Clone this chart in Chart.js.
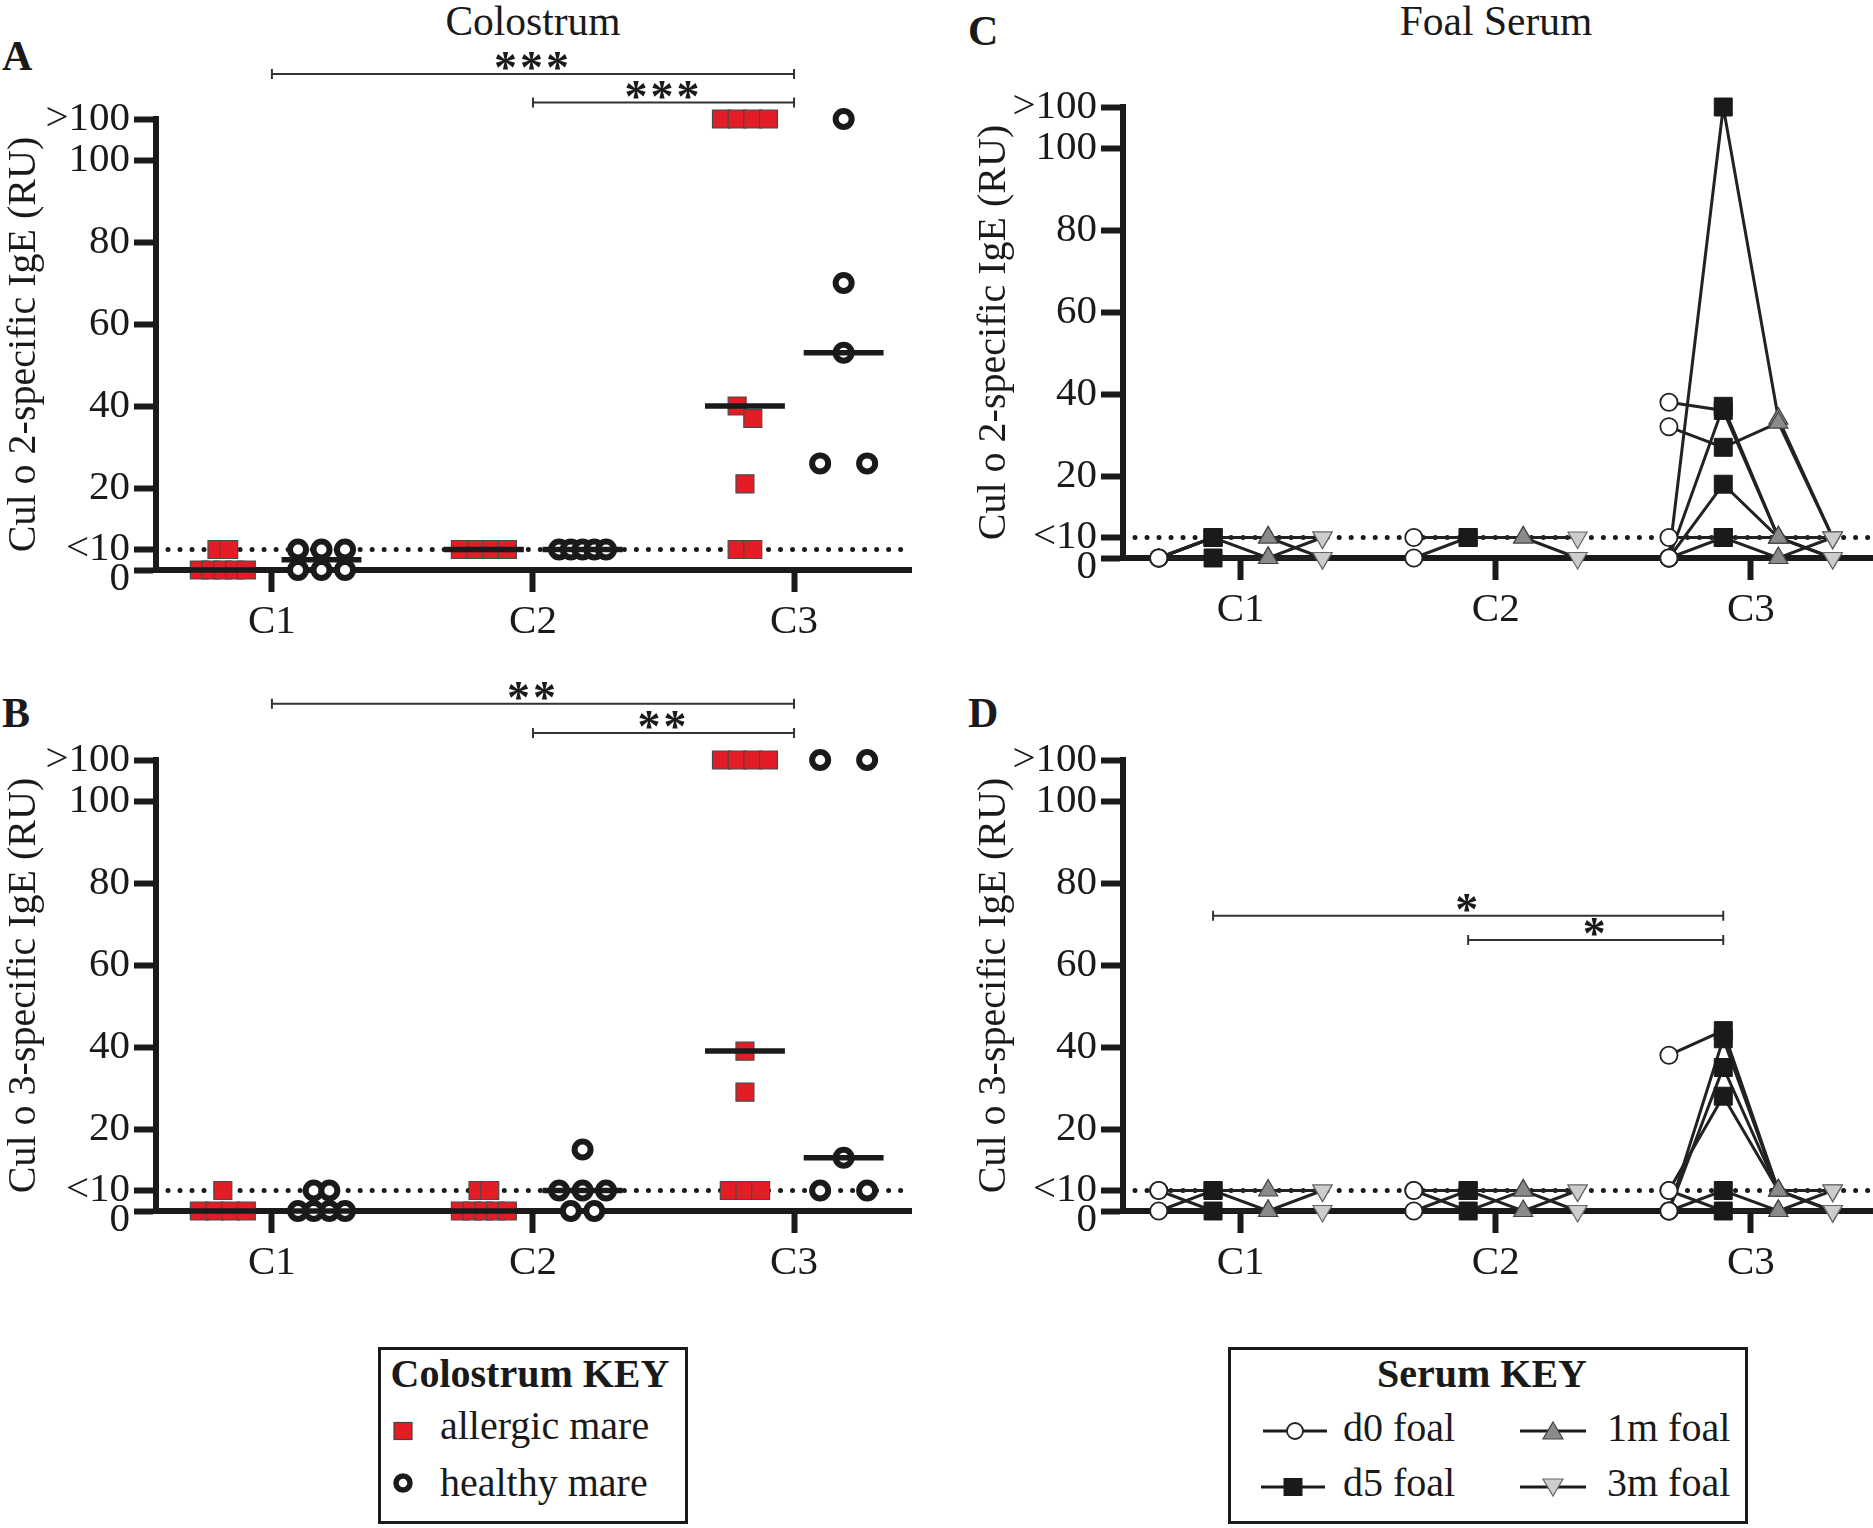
<!DOCTYPE html>
<html>
<head>
<meta charset="utf-8">
<script src="https://cdn.jsdelivr.net/npm/chart.js@4.4.1/dist/chart.umd.min.js"></script>
<style>
  html, body { margin: 0; padding: 0; background: #fff; }
  #page { position: relative; width: 1873px; height: 1528px; overflow: hidden;
          font-family: "Liberation Serif", "Times New Roman", serif; color: #1a1a1a; }
  #page canvas { position: absolute; }
  .txt { position: absolute; line-height: 1; white-space: nowrap; }
  .letter { font-weight: bold; font-size: 42px; }
  .head { font-size: 41.5px; }
  .key { position: absolute; box-sizing: border-box; border: 3.5px solid #1a1a1a; }
  .keyhead { font-weight: bold; font-size: 40px; text-align: center; width: 400px; }
  .keytxt { font-size: 40px; }
  .sym { position: absolute; }
</style>
</head>
<body>
<div id="page">
  <div class="txt head" style="left:333px;top:1px;width:400px;text-align:center">Colostrum</div>
  <div class="txt head" style="left:1296px;top:1px;width:400px;text-align:center">Foal Serum</div>
  <div class="txt letter" style="left:2px;top:35px">A</div>
  <div class="txt letter" style="left:2px;top:692px">B</div>
  <div class="txt letter" style="left:968px;top:10px">C</div>
  <div class="txt letter" style="left:968px;top:692px">D</div>

  <div class="key" style="left:378px;top:1347px;width:310px;height:177px"></div>
  <div class="txt keyhead" style="left:330px;top:1354px">Colostrum KEY</div>
  <svg class="sym" style="left:393px;top:1421px" width="20" height="20">
    <rect x="1" y="1.5" width="18" height="17" fill="#e31d26" stroke="#444" stroke-width="1.2"/>
  </svg>
  <div class="txt keytxt" style="left:440px;top:1406px">allergic mare</div>
  <svg class="sym" style="left:393px;top:1473px" width="20" height="20">
    <circle cx="10" cy="10" r="7" fill="#fff" stroke="#1a1a1a" stroke-width="5.5"/>
  </svg>
  <div class="txt keytxt" style="left:440px;top:1463px">healthy mare</div>

  <div class="key" style="left:1228px;top:1347px;width:520px;height:177px"></div>
  <div class="txt keyhead" style="left:1282px;top:1354px">Serum KEY</div>
  <svg class="sym" style="left:1263px;top:1419px" width="64" height="24">
    <line x1="0" y1="12" x2="64" y2="12" stroke="#1a1a1a" stroke-width="3"/>
    <circle cx="32" cy="12" r="8" fill="#fff" stroke="#222" stroke-width="1.8"/>
  </svg>
  <div class="txt keytxt" style="left:1343px;top:1408px">d0 foal</div>
  <svg class="sym" style="left:1261px;top:1475px" width="64" height="24">
    <line x1="0" y1="12" x2="64" y2="12" stroke="#1a1a1a" stroke-width="3"/>
    <rect x="22.5" y="3" width="19" height="18" fill="#1a1a1a"/>
  </svg>
  <div class="txt keytxt" style="left:1343px;top:1463px">d5 foal</div>
  <svg class="sym" style="left:1520px;top:1419px" width="66" height="24">
    <line x1="0" y1="12" x2="66" y2="12" stroke="#1a1a1a" stroke-width="3"/>
    <polygon points="33,3 43,20 23,20" fill="#8a8a8a" stroke="#444" stroke-width="1.2"/>
  </svg>
  <div class="txt keytxt" style="left:1607px;top:1408px">1m foal</div>
  <svg class="sym" style="left:1520px;top:1475px" width="66" height="24">
    <line x1="0" y1="12" x2="66" y2="12" stroke="#1a1a1a" stroke-width="3"/>
    <polygon points="23,4 43,4 33,21" fill="#cdcdcd" stroke="#666" stroke-width="1.2"/>
  </svg>
  <div class="txt keytxt" style="left:1607px;top:1463px">3m foal</div>
</div>

<script>
var INK = '#1a1a1a';

// ---- data -------------------------------------------------------------
var categories = ['C1', 'C2', 'C3'];
var yTickValues = [0, 5, 20, 40, 60, 80, 100, 110];
var yTickLabels = ['0', '<10', '20', '40', '60', '80', '100', '>100'];
var limitValue = 5;          // the "<10" detection limit line
var timePoints = ['d0 foal', 'd5 foal', '1m foal', '3m foal'];

// colostrum, one inner array per category C1..C3 (110 is the ">100" row)
var cul2Allergic = [[5, 5, 0, 0, 0, 0, 0], [5, 5, 5, 5], [110, 110, 110, 110, 40, 37, 21, 5, 5]];
var cul2Healthy  = [[5, 5, 5, 0, 0, 0], [5, 5, 5, 5, 5], [110, 70, 53, 26, 26]];
var cul3Allergic = [[5, 0, 0, 0, 0], [5, 5, 0, 0, 0, 0, 0], [110, 110, 110, 110, 39, 29, 5, 5, 5]];
var cul3Healthy  = [[5, 5, 0, 0, 0, 0], [15, 5, 5, 5, 0, 0], [110, 110, 13, 5, 5]];

// foal serum, per category a list of foals, each [d0, d5, 1m, 3m]
var cul2Foals = [
  [[0, 5, 0, 5], [0, 5, 5, 0], [0, 0, 0, 0], [0, 5, 5, 5]],
  [[0, 5, 5, 0], [5, 5, 5, 5]],
  [[0, 110, 34, 5], [38, 36, 5, 5], [32, 27, 33, 5], [0, 37, 5, 0], [0, 18, 5, 5], [0, 5, 0, 5], [5, 5, 5, 0]]
];
var cul3Foals = [
  [[0, 5, 0, 5], [5, 0, 0, 0], [5, 5, 5, 5]],
  [[5, 0, 5, 0], [0, 5, 0, 5], [5, 5, 5, 5]],
  [[38, 44, 5, 0], [0, 42, 5, 5], [0, 35, 5, 0], [5, 28, 5, 5], [0, 5, 0, 5], [5, 0, 0, 0]]
];

// significance comparisons
var sigCul2Colostrum = [['C1', 'C3', '***'], ['C2', 'C3', '***']];
var sigCul3Colostrum = [['C1', 'C3', '**'], ['C2', 'C3', '**']];
var sigCul3Serum = [['C1', 'C3', '*'], ['C2', 'C3', '*']];

// ---- drawing ----------------------------------------------------------
Chart.defaults.font.family = '"Liberation Serif", "Times New Roman", serif';
Chart.defaults.color = INK;

var timeOffsets = [-0.321, -0.108, 0.108, 0.321];

var serumStyles = [
  { pointStyle: 'circle', pointRadius: 8.6, pointBackgroundColor: '#fff', pointBorderColor: '#222', pointBorderWidth: 1.8 },
  { pointStyle: 'rect', pointRadius: 12.7, pointBackgroundColor: INK, pointBorderColor: INK, pointBorderWidth: 1 },
  { pointStyle: 'triangle', pointRadius: 11, pointBackgroundColor: '#8a8a8a', pointBorderColor: '#444', pointBorderWidth: 1.2 },
  { pointStyle: 'triangle', pointRotation: 180, pointRadius: 11, pointBackgroundColor: '#cdcdcd', pointBorderColor: '#666', pointBorderWidth: 1.2 }
];

function median(values) {
  var s = values.slice().sort(function(a, b) { return a - b; });
  var m = Math.floor(s.length / 2);
  return s.length % 2 ? s[m] : (s[m - 1] + s[m]) / 2;
}

// scatter-dot layout: points with (nearly) equal values sit side by side
function spreadGroup(values, center) {
  var sorted = values.slice().sort(function(a, b) { return b - a; });
  var rows = [];
  sorted.forEach(function(v) {
    var row = rows[rows.length - 1];
    if (row && row[row.length - 1] - v < 4) {
      row.push(v);
    } else {
      rows.push([v]);
    }
  });
  var widest = Math.max.apply(null, rows.map(function(r) { return r.length; }));
  var step = widest > 1 ? 0.18 / (widest - 1) : 0;
  var pts = [];
  rows.forEach(function(row) {
    row.forEach(function(v, i) {
      pts.push({ x: center + (i - (row.length - 1) / 2) * step, y: v });
    });
  });
  return pts;
}

var sigPlugin = {
  id: 'sig',
  afterDatasetsDraw: function(chart, args, opts) {
    if (!opts.pairs || !opts.pairs.length) return;
    var ctx = chart.ctx, x = chart.scales.x, y = chart.scales.y;
    ctx.save();
    opts.pairs.forEach(function(p, i) {
      var x1 = x.getPixelForValue(categories.indexOf(p[0]) + 1 + opts.endOffset);
      var x2 = x.getPixelForValue(categories.indexOf(p[1]) + 1 + opts.endOffset);
      var yy = y.getPixelForValue(opts.levels[i]);
      ctx.strokeStyle = '#333';
      ctx.lineWidth = 2;
      ctx.beginPath();
      ctx.moveTo(x1, yy - 5); ctx.lineTo(x1, yy + 5);
      ctx.moveTo(x1, yy); ctx.lineTo(x2, yy);
      ctx.moveTo(x2, yy - 5); ctx.lineTo(x2, yy + 5);
      ctx.stroke();
      ctx.font = 'bold 46px "Liberation Serif"';
      ctx.letterSpacing = '3px';
      ctx.textAlign = 'center';
      ctx.textBaseline = 'alphabetic';
      ctx.fillStyle = INK;
      ctx.fillText(p[2], (x1 + x2) / 2, yy + 9);
    });
    ctx.restore();
  }
};

function makeCanvas(left, top, width, height) {
  var c = document.createElement('canvas');
  c.width = width;
  c.height = height;
  c.style.left = left + 'px';
  c.style.top = top + 'px';
  c.style.width = width + 'px';
  c.style.height = height + 'px';
  document.getElementById('page').appendChild(c);
  return c;
}

function makeScales(xRange, yWidth, yTitle) {
  return {
    x: {
      type: 'linear', min: xRange[0], max: xRange[1],
      afterBuildTicks: function(s) { s.ticks = categories.map(function(c, i) { return { value: i + 1 }; }); },
      afterFit: function(s) { s.height = 75; },
      ticks: { callback: function(v) { return categories[v - 1]; }, font: { size: 41 }, padding: 6, autoSkip: false, maxRotation: 0, color: INK },
      grid: { drawOnChartArea: false, tickLength: 22, tickWidth: 6, tickColor: INK },
      border: { width: 6, color: INK }
    },
    y: {
      type: 'linear', min: 0, max: 110,
      afterBuildTicks: function(s) { s.ticks = yTickValues.map(function(v) { return { value: v }; }); },
      afterFit: function(s) { s.width = yWidth; },
      ticks: {
        callback: function(v) {
          var label = yTickLabels[yTickValues.indexOf(v)];
          return v === 0 ? ['', label] : label;   // nudge "0" below "<10"
        },
        font: function(c) {
          return { size: 41, lineHeight: (c.tick && c.tick.value === 0) ? '18px' : 1.2 };
        },
        padding: 4, autoSkip: false, color: INK
      },
      grid: { drawOnChartArea: false, tickLength: 22, tickWidth: 6, tickColor: INK },
      border: { width: 6, color: INK },
      title: { display: true, text: yTitle, font: { size: 40 }, padding: { top: 0, bottom: 0 }, color: INK }
    }
  };
}

function limitDataset(xRange) {
  return {
    data: [{ x: xRange[0], y: limitValue }, { x: xRange[1], y: limitValue }],
    showLine: true, borderColor: INK, borderWidth: 5, borderDash: [0.01, 12], borderCapStyle: 'round',
    pointRadius: 0, order: 6, clip: false
  };
}

function baseOptions(padding, scales, sig) {
  return {
    responsive: false, animation: false,
    layout: { padding: padding, autoPadding: false },
    plugins: { legend: { display: false }, tooltip: { enabled: false }, sig: sig },
    scales: scales
  };
}

function colostrumChart(box, allergic, healthy, yTitle, sig) {
  var datasets = [limitDataset(box.xRange)];
  var allergicPts = [], healthyPts = [];
  categories.forEach(function(c, i) {
    allergicPts = allergicPts.concat(spreadGroup(allergic[i], i + 1 - 0.188));
    healthyPts = healthyPts.concat(spreadGroup(healthy[i], i + 1 + 0.19));
    [[allergic[i], i + 1 - 0.188], [healthy[i], i + 1 + 0.19]].forEach(function(g) {
      var m = median(g[0]);
      datasets.push({
        data: [{ x: g[1] - 0.153, y: m }, { x: g[1] + 0.153, y: m }],
        showLine: true, borderColor: INK, borderWidth: 5.5, pointRadius: 0, order: 1, clip: false
      });
    });
  });
  datasets.push({
    label: 'allergic mare', data: allergicPts, pointStyle: 'rect', pointRadius: 12.7,
    pointBackgroundColor: '#e31d26', pointBorderColor: '#4a4a4a', pointBorderWidth: 1.2, order: 2, clip: false
  });
  datasets.push({
    label: 'healthy mare', data: healthyPts, pointStyle: 'circle', pointRadius: 8,
    pointBackgroundColor: '#fff', pointBorderColor: INK, pointBorderWidth: 6, order: 2, clip: false
  });
  var cv = makeCanvas(box.left, box.top, box.width, box.height);
  return new Chart(cv, {
    type: 'scatter',
    data: { datasets: datasets },
    options: baseOptions(box.padding, makeScales(box.xRange, box.yWidth, yTitle), sig),
    plugins: [sigPlugin]
  });
}

function serumChart(box, foals, yTitle, sig) {
  var datasets = [limitDataset(box.xRange)];
  var markers = timePoints.map(function() { return []; });
  foals.forEach(function(group, i) {
    group.forEach(function(foal) {
      var pts = foal.map(function(v, k) { return { x: i + 1 + timeOffsets[k], y: v }; });
      datasets.push({ data: pts, showLine: true, borderColor: '#222', borderWidth: 3, pointRadius: 0, order: 4, clip: false });
      pts.forEach(function(p, k) { markers[k].push(p); });
    });
  });
  timePoints.forEach(function(name, k) {
    datasets.push(Object.assign({ label: name, data: markers[k], order: 3, clip: false }, serumStyles[k]));
  });
  var cv = makeCanvas(box.left, box.top, box.width, box.height);
  return new Chart(cv, {
    type: 'scatter',
    data: { datasets: datasets },
    options: baseOptions(box.padding, makeScales(box.xRange, box.yWidth, yTitle), sig),
    plugins: [sigPlugin]
  });
}

var boxA = { left: 0, top: 0, width: 940, height: 650, yWidth: 156, xRange: [0.556, 3.448],
             padding: { left: 0, top: 119, right: 29, bottom: 5 } };
var boxB = { left: 0, top: 650, width: 940, height: 640, yWidth: 156, xRange: [0.556, 3.448],
             padding: { left: 0, top: 110, right: 29, bottom: 4 } };
var boxC = { left: 970, top: 0, width: 903, height: 650, yWidth: 153, xRange: [0.539, 3.479],
             padding: { left: 0, top: 107, right: 0, bottom: 17 } };
var boxD = { left: 970, top: 650, width: 903, height: 640, yWidth: 153, xRange: [0.539, 3.479],
             padding: { left: 0, top: 110, right: 0, bottom: 4 } };

colostrumChart(boxA, cul2Allergic, cul2Healthy, 'Cul o 2-specific IgE (RU)',
  { pairs: sigCul2Colostrum, levels: [121, 114], endOffset: 0 });
colostrumChart(boxB, cul3Allergic, cul3Healthy, 'Cul o 3-specific IgE (RU)',
  { pairs: sigCul3Colostrum, levels: [123.7, 116.6], endOffset: 0 });
serumChart(boxC, cul2Foals, 'Cul o 2-specific IgE (RU)', { pairs: [] });
serumChart(boxD, cul3Foals, 'Cul o 3-specific IgE (RU)',
  { pairs: sigCul3Serum, levels: [72, 66.1], endOffset: -0.108 });
</script>
</body>
</html>
